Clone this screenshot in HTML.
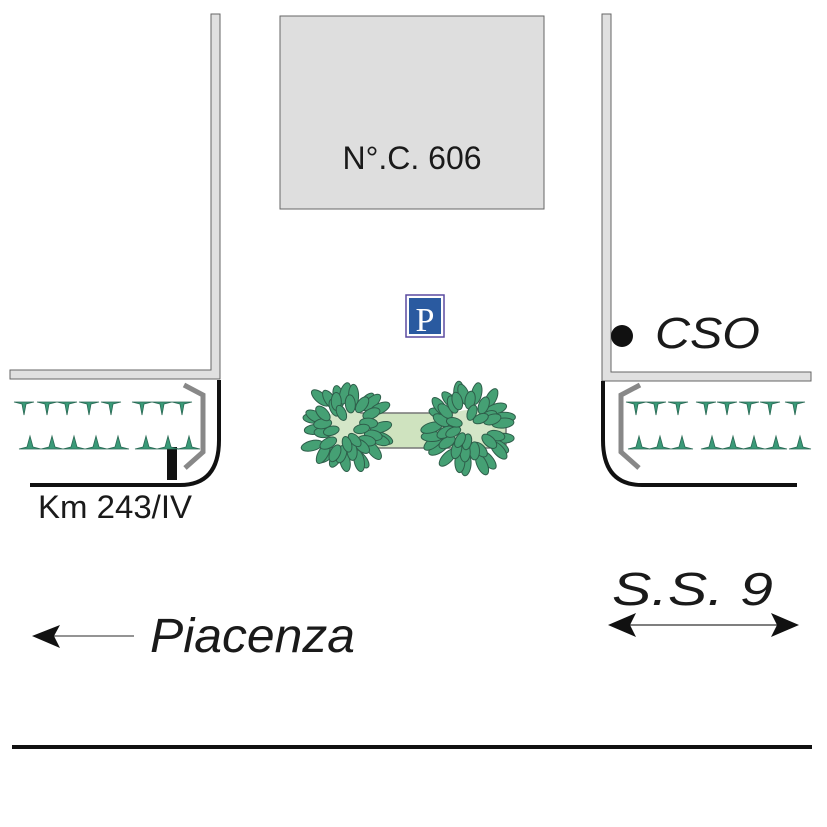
<!DOCTYPE html>
<html><head><meta charset="utf-8"><style>
html,body{margin:0;padding:0;background:#fff}
svg{display:block}
text{font-family:"Liberation Sans",sans-serif;fill:#1a1a1a}
</style></head><body>
<svg width="827" height="827" viewBox="0 0 827 827" xmlns="http://www.w3.org/2000/svg">
<defs>
<path id="td" d="M-10,0 L10,0 L2,2 L0,13 L-2,2 Z" fill="#3a9a78" stroke="#2a6a55" stroke-width="0.8"/>
<path id="tu" d="M-11,0 L11,0 L3,-2 L0,-13 L-3,-2 Z" fill="#3a9a78" stroke="#2a6a55" stroke-width="0.8"/>
</defs>
<!-- walls -->
<path d="M211,14 H220 V379 H10 V370 H211 Z" fill="#e0e0e0" stroke="#666" stroke-width="1"/>
<path d="M602,14 H611 V372 H811 V381 H602 Z" fill="#e0e0e0" stroke="#666" stroke-width="1"/>
<!-- building -->
<rect x="280" y="16" width="264" height="193" fill="#dedede" stroke="#666" stroke-width="1"/>
<text x="412" y="169" font-size="32" text-anchor="middle">N°.C. 606</text>
<!-- P sign -->
<rect x="406" y="295" width="38" height="42" fill="#fff" stroke="#5a4aa0" stroke-width="1.5"/>
<rect x="409" y="298" width="32" height="36" fill="#2a5aa0"/>
<text x="425" y="331" font-size="34" text-anchor="middle" style="font-family:'Liberation Serif',serif;fill:#fff">P</text>
<!-- left bed -->
<path d="M219,380 V440 Q219,485 180,485 H30" fill="none" stroke="#111" stroke-width="4"/>
<path d="M184,385 L203,395 V452 L185,468" fill="none" stroke="#888" stroke-width="5"/>
<rect x="167" y="447" width="10" height="33" fill="#111"/>
<text x="38" y="518" font-size="32" textLength="154" lengthAdjust="spacingAndGlyphs">Km 243/IV</text>
<!-- right bed -->
<path d="M603,381 V440 Q603,485 642,485 H797" fill="none" stroke="#111" stroke-width="4"/>
<path d="M640,385 L621,395 V452 L639,468" fill="none" stroke="#888" stroke-width="5"/>
<!-- plant markers -->
<g>
<use href="#td" x="24" y="402"/><use href="#td" x="47" y="402"/><use href="#td" x="67" y="402"/><use href="#td" x="89" y="402"/><use href="#td" x="111" y="402"/><use href="#td" x="142" y="402"/><use href="#td" x="162" y="402"/><use href="#td" x="182" y="402"/>
<use href="#tu" x="30" y="449"/><use href="#tu" x="52" y="449"/><use href="#tu" x="74" y="449"/><use href="#tu" x="96" y="449"/><use href="#tu" x="118" y="449"/><use href="#tu" x="146" y="449"/><use href="#tu" x="168" y="449"/><use href="#tu" x="189" y="449"/>
<use href="#td" x="636" y="402"/><use href="#td" x="656" y="402"/><use href="#td" x="678" y="402"/><use href="#td" x="706" y="402"/><use href="#td" x="727" y="402"/><use href="#td" x="749" y="402"/><use href="#td" x="770" y="402"/><use href="#td" x="795" y="402"/>
<use href="#tu" x="639" y="449"/><use href="#tu" x="660" y="449"/><use href="#tu" x="682" y="449"/><use href="#tu" x="712" y="449"/><use href="#tu" x="733" y="449"/><use href="#tu" x="754" y="449"/><use href="#tu" x="776" y="449"/><use href="#tu" x="800" y="449"/>
</g>
<!-- planter -->
<rect x="340" y="413" width="166" height="35" rx="4" fill="#cfe3bf" stroke="#777" stroke-width="1.5"/>
<g id="trees"></g>
<!-- CSO -->
<circle cx="622" cy="336" r="11" fill="#111"/>
<text x="655" y="348" font-size="44" font-style="italic" textLength="105" lengthAdjust="spacingAndGlyphs">CSO</text>
<!-- S.S. 9 -->
<text x="612" y="605" font-size="46" font-style="italic" textLength="161" lengthAdjust="spacingAndGlyphs">S.S. 9</text>
<line x1="625" y1="625" x2="782" y2="625" stroke="#333" stroke-width="1.2"/>
<path d="M608,625 L636,613 L630,625 L636,637 Z" fill="#111"/>
<path d="M799,625 L771,613 L777,625 L771,637 Z" fill="#111"/>
<!-- Piacenza -->
<text x="150" y="652" font-size="48" font-style="italic" textLength="205" lengthAdjust="spacingAndGlyphs">Piacenza</text>
<line x1="50" y1="636" x2="134" y2="636" stroke="#555" stroke-width="1.2"/>
<path d="M32,636 L60,625 L54,636 L60,648 Z" fill="#111"/>
<!-- road -->
<rect x="12" y="745" width="800" height="4" fill="#111"/>
</svg>
<script>
(function(){
var g=document.getElementById('trees'),ns='http://www.w3.org/2000/svg';
function tree(cx,cy){
 var c=document.createElementNS(ns,'ellipse');
 c.setAttribute('cx',cx);c.setAttribute('cy',cy);c.setAttribute('rx',24);c.setAttribute('ry',18);c.setAttribute('fill','#d4e6c8');g.appendChild(c);
 var seed=cx*7+3;function r(){seed=(seed*9301+49297)%233280;return seed/233280;}
 var rings=[[36,22,11,5],[27,16,9,5],[16,9,8,4.5]];
 for(var ring=0;ring<3;ring++){
  var rad=rings[ring][0],n=rings[ring][1];
  for(var i=0;i<n;i++){
   var a=i/n*Math.PI*2+r()*0.3, rr=rad*(0.85+r()*0.25);
   var x=cx+Math.cos(a)*rr, y=cy+Math.sin(a)*rr;
   if(ring==2&&r()<0.35)continue;
   var e=document.createElementNS(ns,'ellipse');
   e.setAttribute('cx',0);e.setAttribute('cy',0);e.setAttribute('rx',rings[ring][2]);e.setAttribute('ry',rings[ring][3]);
   e.setAttribute('transform','translate('+x.toFixed(1)+','+y.toFixed(1)+') rotate('+(a*180/Math.PI+r()*40-20).toFixed(0)+')');
   e.setAttribute('fill','#45a074');e.setAttribute('stroke','#2e5e4a');e.setAttribute('stroke-width','1');
   g.appendChild(e);
  }
 }
}
tree(346,428);tree(468,428);
})();
</script>
</body></html>
